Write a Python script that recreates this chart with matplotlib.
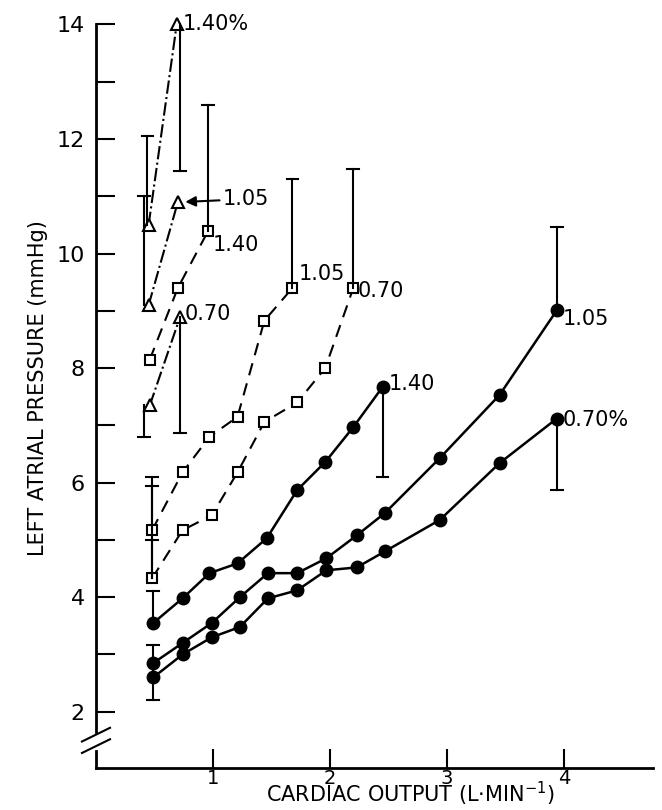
import matplotlib.pyplot as plt

# triangles (dash-dot)
tri_x_140 = [0.45, 0.69]
tri_y_140 = [10.5, 14.0]
tri_x_105 = [0.45, 0.70]
tri_y_105 = [9.1, 10.9]
tri_x_070 = [0.46, 0.72]
tri_y_070 = [7.35, 8.9]

# squares (dashed)
sq_x_140 = [0.46, 0.70, 0.96]
sq_y_140 = [8.15, 9.4, 10.4]
sq_x_105 = [0.48, 0.74, 0.97, 1.21, 1.44, 1.68]
sq_y_105 = [5.17, 6.18, 6.8, 7.15, 8.83, 9.4]
sq_x_070 = [0.48, 0.74, 0.99, 1.21, 1.44, 1.72, 1.96, 2.2]
sq_y_070 = [4.33, 5.17, 5.43, 6.18, 7.06, 7.4, 8.0, 9.4]

# circles (solid)
ci_x_140 = [0.49, 0.74, 0.97, 1.21, 1.46, 1.72, 1.96, 2.20, 2.45]
ci_y_140 = [3.55, 3.98, 4.42, 4.59, 5.03, 5.87, 6.36, 6.97, 7.67]
ci_x_105 = [0.49, 0.74, 0.99, 1.23, 1.47, 1.72, 1.97, 2.23, 2.47, 2.94, 3.45, 3.94]
ci_y_105 = [2.85, 3.2, 3.55, 4.0, 4.42, 4.42, 4.68, 5.08, 5.47, 6.43, 7.53, 9.01]
ci_x_070 = [0.49, 0.74, 0.99, 1.23, 1.47, 1.72, 1.97, 2.23, 2.47, 2.94, 3.45, 3.94]
ci_y_070 = [2.6, 3.0, 3.3, 3.48, 3.98, 4.12, 4.47, 4.52, 4.8, 5.35, 6.34, 7.12]

# error bars: x, y from, y to
err_x = [0.44, 0.72, 0.41, 0.41, 0.96, 1.68, 2.2, 0.48, 0.48, 0.48, 0.49, 0.49, 2.45, 3.94, 3.94, 0.72]
err_lo = [10.5, 11.45, 9.1, 7.35, 10.4, 9.4, 9.4, 5.17, 4.33, 4.33, 3.55, 2.2, 6.1, 9.01, 5.87, 6.87]
err_hi = [12.05, 14.0, 11.0, 6.8, 12.6, 11.3, 11.47, 6.1, 5.95, 5.0, 4.1, 3.16, 7.67, 10.47, 7.12, 8.9]
# which end gets a cap
err_cap = ['hi', 'lo', 'hi', 'hi', 'hi', 'hi', 'hi', 'hi', 'hi', 'hi', 'hi', 'both', 'lo', 'hi', 'lo', 'lo']

fig = plt.figure(figsize=(6.62, 8.10), dpi=100)
ax = fig.add_axes([0.145, 0.052, 0.841, 0.939])
ax.set_xlim(0, 4.76)
ax.set_ylim(1.02, 14.3)

k = 'black'
for xs, ys in [(tri_x_140, tri_y_140), (tri_x_105, tri_y_105), (tri_x_070, tri_y_070)]:
    ax.plot(xs, ys, color=k, ls='-.', lw=1.5, marker='^', ms=8, mfc='white', mew=1.5)
for xs, ys in [(sq_x_140, sq_y_140), (sq_x_105, sq_y_105), (sq_x_070, sq_y_070)]:
    ax.plot(xs, ys, color=k, ls=(0, (6, 4)), lw=1.5, marker='s', ms=7.5, mfc='white', mew=1.5)
for xs, ys in [(ci_x_140, ci_y_140), (ci_x_105, ci_y_105), (ci_x_070, ci_y_070)]:
    ax.plot(xs, ys, color=k, ls='-', lw=1.8, marker='o', ms=9)

for x, lo, hi, cap in zip(err_x, err_lo, err_hi, err_cap):
    ax.plot([x, x], [lo, hi], color=k, lw=1.5)
    if cap in ('hi', 'both'):
        ax.plot([x - 0.05, x + 0.05], [hi, hi], color=k, lw=1.5)
    if cap in ('lo', 'both'):
        ax.plot([x - 0.05, x + 0.05], [lo, lo], color=k, lw=1.5)

fs = 15
lab = dict(fontsize=fs, va='center', ha='left')
ax.text(0.74, 14.0, '1.40%', **lab)
ax.annotate('1.05', xy=(0.74, 10.9), xytext=(1.08, 10.95), fontsize=fs, va='center',
            arrowprops=dict(arrowstyle='-|>', color=k, lw=1.5, shrinkA=0, shrinkB=2))
ax.text(1.0, 10.15, '1.40', **lab)
ax.text(0.76, 8.95, '0.70', **lab)
ax.text(1.73, 9.65, '1.05', **lab)
ax.text(2.24, 9.35, '0.70', **lab)
ax.text(2.5, 7.72, '1.40', **lab)
ax.text(3.99, 8.85, '1.05', **lab)
ax.text(3.99, 7.1, '0.70%', **lab)

# axes with a break in the y axis
for s in ['top', 'right', 'left']:
    ax.spines[s].set_visible(False)
ax.spines['bottom'].set_linewidth(2)
ax.plot([0, 0], [1.65, 14.0], color=k, lw=2, clip_on=False)
ax.plot([0, 0], [1.02, 1.32], color=k, lw=2, clip_on=False)
for yb in (1.4, 1.6):
    ax.plot([-0.12, 0.12], [yb - 0.12, yb + 0.12], color=k, lw=1.5, clip_on=False)

ax.set_xticks([1, 2, 3, 4])
ax.set_xticklabels(['1', '2', '3', '4'], fontsize=14)
ax.tick_params(axis='x', direction='in', length=14, width=1.5, pad=1)
ax.set_yticks(range(2, 15))
ax.set_yticklabels([str(v) if v % 2 == 0 else '' for v in range(2, 15)], fontsize=16)
ax.tick_params(axis='y', direction='in', length=14, width=1.5, pad=8, left=True)

fig.text(0.62, 0.003, 'CARDIAC OUTPUT (L$\\cdot$MIN$^{-1}$)', fontsize=15, ha='center', va='bottom')
ax.set_ylabel('LEFT ATRIAL PRESSURE (mmHg)', fontsize=15, labelpad=6)

fig.savefig('out.png', dpi=100)
